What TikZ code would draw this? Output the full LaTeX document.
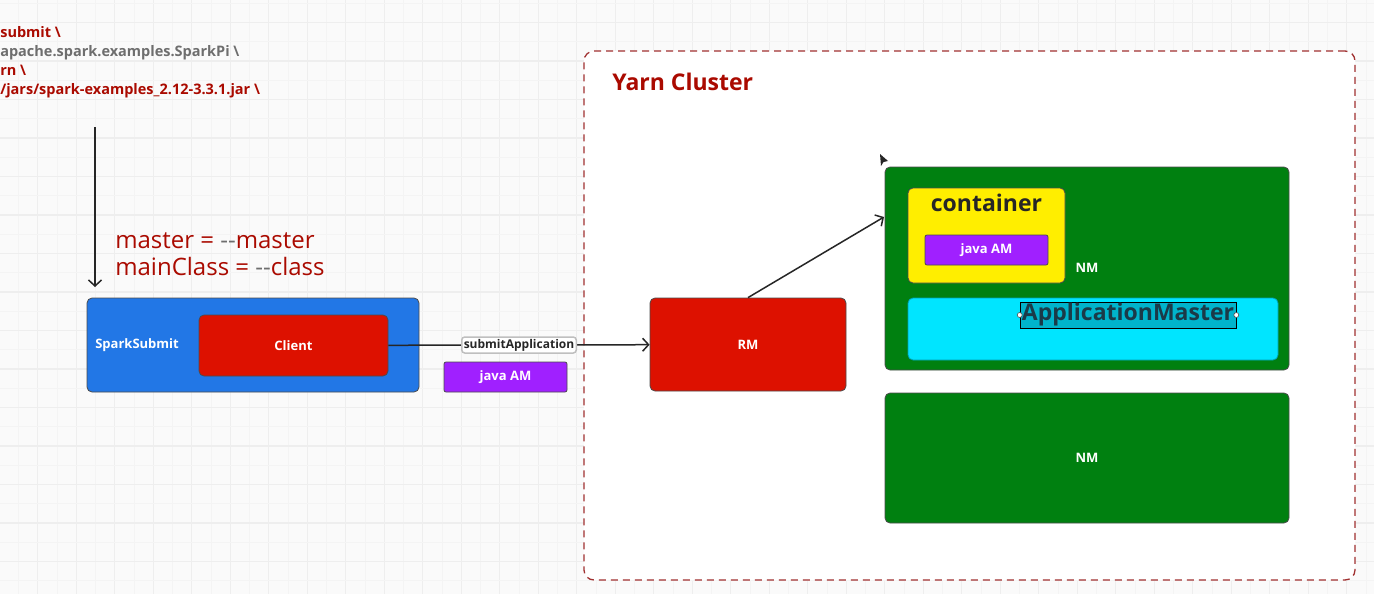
\documentclass[tikz,border=0pt]{standalone}
\usepackage{fontspec}
\setmainfont{Open Sans}
\usetikzlibrary{arrows.meta}
\definecolor{sparkblue}{HTML}{2277E6}
\definecolor{boxred}{HTML}{DD1100}
\definecolor{ampurple}{HTML}{A020FF}
\definecolor{nmgreen}{HTML}{008010}
\definecolor{ctyellow}{HTML}{FFEE00}
\definecolor{amcyan}{HTML}{00E5FF}
\definecolor{selteal}{HTML}{00B4CC}
\definecolor{seltext}{HTML}{1B3A48}
\definecolor{txtred}{HTML}{AA0A00}
\definecolor{txtgray}{HTML}{6E6E6E}
\definecolor{yarnred}{HTML}{A03030}
\definecolor{bggray}{HTML}{FAFAFA}
\definecolor{gridmajor}{HTML}{EEEEEE}
\definecolor{gridminor}{HTML}{F4F4F4}
\begin{document}
\begin{tikzpicture}[x=1pt,y=-1pt,semithick,
  box/.style={draw=black!70,line width=.8pt,rounded corners=5pt,text=white,
    font=\fontsize{13}{15}\selectfont\bfseries},
  small/.style={box,fill=ampurple,minimum width=123pt,minimum height=30pt,rounded corners=2pt},
  lbl/.style={draw=black!25,fill=white,rounded corners=3pt,inner sep=2pt,
    font=\fontsize{12}{14}\selectfont\bfseries,text=black!85},
  arr/.style={-{Straight Barb[length=6pt,width=13pt]},line width=1.5pt,black!85}]

\useasboundingbox (0,0) rectangle (1374,594);
\fill[bggray] (0,0) rectangle (1374,594);
\foreach \k in {0,...,36} {
  \draw[gridminor,line width=.8pt] ({18.45+38.5*\k},0) -- ++(0,594);
  \draw[gridmajor,line width=1.2pt] ({-0.8+38.5*\k},0) -- ++(0,594);
}
\foreach \k in {0,...,15} {
  \draw[gridminor,line width=.8pt] (0,{3.25+38.5*\k}) -- ++(1374,0);
  \draw[gridmajor,line width=1.2pt] (0,{22.5+38.5*\k}) -- ++(1374,0);
}

\node[anchor=north west,inner sep=0pt,align=left,font=\fontsize{14.5}{19}\selectfont\bfseries]
  (cmd) at (0,26) {\textcolor{txtred}{submit \textbackslash}\\
  \textcolor{txtgray}{apache.spark.examples.SparkPi \textbackslash}\\
  \textcolor{txtred}{rn \textbackslash}\\
  \textcolor{txtred}{/jars/spark-examples\_2.12-3.3.1.jar \textbackslash}};
\coordinate (cmdtop) at (95,127);
\coordinate (cmdbot) at (95,287);
\node[anchor=west,inner sep=0pt,align=left,text=txtred,font=\fontsize{24}{27}\selectfont]
  (params) at (115,254) {master = \textcolor{txtgray}{-{}-}master\\mainClass = \textcolor{txtgray}{-{}-}class};

\node[box,fill=sparkblue,minimum width=332pt,minimum height=94pt] (spark) at (253,345) {};
\node[text=white,font=\fontsize{13}{15}\selectfont\bfseries,anchor=west,inner sep=0pt] (sparklbl) at (95,345) {SparkSubmit};
\node[box,fill=boxred,minimum width=189pt,minimum height=61pt] (client) at (293.5,345.5) {Client};
\node[small] (am1) at (505.5,377) {java AM};

\node[draw=yarnred,line width=1.3pt,dash pattern=on 7pt off 5pt,fill=white,rounded corners=10pt,
  minimum width=771pt,minimum height=529pt] (yarn) at (969.5,315.5) {};
\node[anchor=west,inner sep=0pt,text=txtred,font=\fontsize{23}{27}\selectfont\bfseries] (yarnlbl) at (612,82) {Yarn Cluster};

\node[box,fill=boxred,minimum width=196pt,minimum height=93pt] (rm) at (748,344.5) {RM};
\node[box,fill=nmgreen,minimum width=404pt,minimum height=203pt] (nm1) at (1087,268.5) {};
\node[text=white,font=\fontsize{13}{15}\selectfont\bfseries] (nm1lbl) at (1087,268) {NM};
\node[box,fill=ctyellow,minimum width=157pt,minimum height=95pt] (container) at (986.5,235.5) {};
\node[text=black!85,font=\fontsize{23}{27}\selectfont\bfseries] (contlbl) at (986.5,203) {container};
\node[small] (am2) at (986.5,250) {java AM};
\node[box,fill=amcyan,draw=amcyan!70!black,minimum width=370pt,minimum height=62pt] (appm) at (1093,329) {};
\node[draw=black,line width=.6pt,fill=selteal,inner sep=0pt,minimum width=216pt,minimum height=26pt,
  text=seltext,font=\fontsize{23}{27}\selectfont\bfseries] (appmlbl) at (1128,315) {ApplicationMaster};
\filldraw[fill=white,draw=black!70,line width=.6pt] (appmlbl.west) circle (2.5pt) (appmlbl.east) circle (2.5pt);
\node[box,fill=nmgreen,minimum width=404pt,minimum height=130pt] (nm2) at (1087,458) {NM};

\coordinate (tip) at (884,217);
\fill[black!85] (880,154) -- (888,161) -- (883.5,162) -- (881,166) -- cycle;

\path[arr] (cmdtop) edge (cmdbot)
           (client) edge node[lbl] {submitApplication} (rm)
           (rm.north) edge (tip);
\end{tikzpicture}
\end{document}
